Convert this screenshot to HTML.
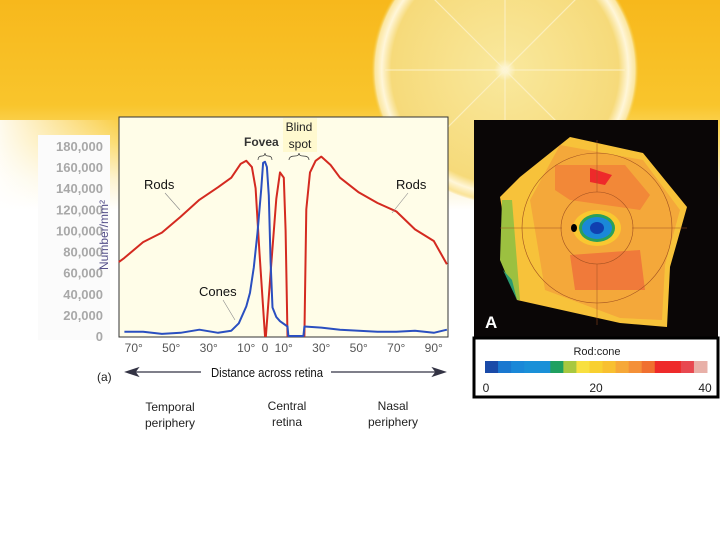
<!DOCTYPE html>
<html><head><meta charset="utf-8"><style>
body{margin:0;width:720px;height:540px;overflow:hidden;font-family:"Liberation Sans",sans-serif;}
#bg{position:absolute;left:0;top:0;width:720px;height:540px;}
</style></head><body>
<svg id="bg" width="720" height="540">
<defs>
<linearGradient id="yb" x1="0" y1="0" x2="0" y2="1">
<stop offset="0" stop-color="#f7b81c"/><stop offset="0.5" stop-color="#f9c52c"/><stop offset="0.68" stop-color="#fbdc70"/><stop offset="0.85" stop-color="#fdf2cc"/><stop offset="1" stop-color="#ffffff"/>
</linearGradient>
<linearGradient id="lf" x1="0" y1="0" x2="1" y2="0">
<stop offset="0" stop-color="#fff" stop-opacity="0.9"/><stop offset="1" stop-color="#fff" stop-opacity="0"/>
</linearGradient>
<radialGradient id="lem" cx="0.5" cy="0.5" r="0.5">
<stop offset="0" stop-color="#fffbe8"/><stop offset="0.08" stop-color="#f9e79a"/><stop offset="0.85" stop-color="#f6da7a"/><stop offset="0.92" stop-color="#fff6d8"/><stop offset="0.97" stop-color="#fbe6a0"/><stop offset="1" stop-color="#f5c530" stop-opacity="0"/>
</radialGradient>
</defs>
<rect width="720" height="540" fill="#fff"/>
<rect width="720" height="210" fill="url(#yb)"/>
<circle cx="505" cy="70" r="134" fill="url(#lem)"/>
<g stroke="#fdf4d0" stroke-width="1.2" opacity="0.7">
<line x1="505" y1="70" x2="505" y2="-55"/><line x1="505" y1="70" x2="505" y2="190"/><line x1="505" y1="70" x2="385" y2="70"/><line x1="505" y1="70" x2="625" y2="70"/>
<line x1="505" y1="70" x2="420" y2="-15"/><line x1="505" y1="70" x2="590" y2="-15"/><line x1="505" y1="70" x2="420" y2="155"/><line x1="505" y1="70" x2="590" y2="155"/>
</g>
<rect x="0" y="120" width="120" height="90" fill="url(#lf)"/>
<rect x="38" y="135" width="72" height="205" fill="#fbfbfb"/>
</svg>

<svg style="position:absolute;left:0;top:0" width="720" height="540">
<rect x="119" y="117" width="329" height="220" fill="#fffde8" stroke="#333" stroke-width="1"/>
<g id="yt" font-size="13" font-weight="bold" fill="#a8a8a8" text-anchor="end"></g>
<text transform="translate(108,235) rotate(-90)" font-size="12" fill="#55508a" text-anchor="middle">Number/mm²</text>
<g id="xt" font-size="12" fill="#555" text-anchor="middle"></g>
<g id="marks"></g>
<rect x="283" y="118" width="34" height="34" fill="#fff8c8" opacity="0.8"/>
<text x="299" y="131" font-size="12" text-anchor="middle" fill="#222">Blind</text>
<text x="300" y="148" font-size="12" text-anchor="middle" fill="#222">spot</text>
<text x="244" y="146" font-size="12" font-weight="bold" fill="#333">Fovea</text>
<path d="M258,160 q0,-4 4,-4 q3,0 3,-3 q0,3 3,3 q4,0 4,4" fill="none" stroke="#333" stroke-width="0.7"/>
<path d="M289,160 q0,-4 6,-4 q4,0 4,-3 q0,3 4,3 q6,0 6,4" fill="none" stroke="#333" stroke-width="0.7"/>
<text x="144" y="189" font-size="13" fill="#111">Rods</text>
<line x1="165" y1="193" x2="180" y2="210" stroke="#888" stroke-width="0.6"/>
<text x="396" y="189" font-size="13" fill="#111">Rods</text>
<line x1="408" y1="193" x2="392" y2="213" stroke="#888" stroke-width="0.6"/>
<text x="199" y="296" font-size="13" fill="#111">Cones</text>
<line x1="223" y1="300" x2="235" y2="320" stroke="#888" stroke-width="0.6"/>
<text x="97" y="381" font-size="12" fill="#222">(a)</text>
<g stroke="#334" stroke-width="1.2" fill="#334">
<line x1="130" y1="372" x2="201" y2="372"/><path d="M126,372 l12,-4 l-3,4 l3,4z"/>
<line x1="331" y1="372" x2="440" y2="372"/><path d="M445,372 l-12,-4 l3,4 l-3,4z"/>
</g>
<text x="211" y="377" font-size="13" fill="#111" textLength="112" lengthAdjust="spacingAndGlyphs">Distance across retina</text>
<g font-size="12" fill="#222" text-anchor="middle">
<text x="170" y="411">Temporal</text><text x="170" y="427">periphery</text>
<text x="287" y="410">Central</text><text x="287" y="426">retina</text>
<text x="393" y="410">Nasal</text><text x="393" y="426">periphery</text>
</g>
</svg>

<svg style="position:absolute;left:0;top:0" width="720" height="540">
<rect x="474" y="120" width="244" height="218" fill="#0a0606"/>
<polygon points="570,137 643,153 687,207 670,267 667,327 620,323 517,300 500,197 520,177" fill="#f7c23a"/>
<polygon points="502,200 512,200 520,300 517,300 500,260" fill="#9cc040"/>
<polygon points="503,270 512,280 517,300" fill="#2a9a70"/>
<polygon points="560,145 643,160 680,210 665,265 662,320 620,318 545,290 530,200" fill="#f4a83a"/>
<polygon points="555,165 625,165 650,195 640,210 570,200 555,190" fill="#f28838"/>
<polygon points="590,168 612,175 605,185 590,182" fill="#ee2a2a"/>
<polygon points="570,255 640,250 645,290 575,290" fill="#f07a3a"/>
<circle cx="597" cy="228" r="36" fill="none" stroke="#a05020" stroke-width="0.6"/>
<circle cx="597" cy="228" r="75" fill="none" stroke="#a05020" stroke-width="0.6"/>
<g stroke="#a05020" stroke-width="0.5"><line x1="500" y1="228" x2="562" y2="228"/><line x1="632" y1="228" x2="687" y2="228"/><line x1="597" y1="140" x2="597" y2="192"/><line x1="597" y1="264" x2="597" y2="325"/></g>
<ellipse cx="597" cy="228" rx="24" ry="18" fill="#f9c830"/>
<ellipse cx="597" cy="228" rx="18" ry="14" fill="#2aa05a"/>
<ellipse cx="597" cy="228" rx="15" ry="11" fill="#1a88d8"/>
<ellipse cx="597" cy="228" rx="7" ry="6" fill="#1040b0"/>
<ellipse cx="574" cy="228" rx="3" ry="4" fill="#000"/>
<text x="485" y="328" font-size="17" font-weight="bold" fill="#fff">A</text>
<rect x="474" y="338" width="244" height="59" fill="#fff" stroke="#000" stroke-width="3"/>
<text x="597" y="355" font-size="11" fill="#222" text-anchor="middle">Rod:cone</text>
<g id="cb"></g>
<g font-size="12" fill="#222" text-anchor="middle">
<text x="486" y="392">0</text>
<text x="596" y="392">20</text>
<text x="705" y="392">40</text>
</g>
</svg>

<script>
const rodDeg=[-78,-75,-65,-55,-45,-35,-25,-18,-13,-10,-7,-5,-3,0,0.5,3,6,8,10,11,12,21,22,24,27,30,35,40,50,60,70,80,90,97];
const rodVal=[70000,74000,89000,98000,113000,129000,141000,150000,163000,166000,160000,140000,80000,0,0,60000,130000,155000,150000,100000,0,0,120000,155000,166000,170000,162000,150000,136000,126000,118000,101000,90000,68000];
const coneDeg=[-75,-65,-55,-45,-35,-25,-18,-14,-10,-8,-6,-4,-2,-1,0,1,2,3,4,6,8,12,12.5,20.5,21,30,40,50,60,70,80,90,97];
const coneVal=[4000,4000,2000,3000,6000,3000,5000,12000,28000,41000,65000,98000,140000,164000,165000,160000,133000,70000,27000,18000,14000,9000,0,0,9000,8000,6000,5000,4000,4000,5000,3000,6000];
const yTicks=[0,20000,40000,60000,80000,100000,120000,140000,160000,180000];
const yTickLabels=["0","20,000","40,000","60,000","80,000","100,000","120,000","140,000","160,000","180,000"];
const xTicks=[-70,-50,-30,-10,0,10,30,50,70,90];
const xTickLabels=["70°","50°","30°","10°","0","10°","30°","50°","70°","90°"];
const cbColors=["#1a4aa8","#1a78d0","#1a88d8","#1a90d8","#1a90d8","#20a060","#a8c840","#f8e040","#f8d030","#f8c030","#f6a838","#f49038","#f07030","#ee2a2a","#ee2a2a","#e84850","#e8b0a8"];
const NS='http://www.w3.org/2000/svg';
function xs(d){return 265+d*1.875;}
function ys(v){return 336-v*190/180000;}
function mk(t,a){const e=document.createElementNS(NS,t);for(const k in a)e.setAttribute(k,a[k]);return e;}
const yt=document.getElementById('yt');
yTicks.forEach((v,i)=>{const t=mk('text',{x:103,y:ys(v)+5});t.textContent=yTickLabels[i];


yt.appendChild(t);});
const xt=document.getElementById('xt');
xTicks.forEach((v,i)=>{const t=mk('text',{x:xs(v),y:352});t.textContent=xTickLabels[i];


xt.appendChild(t);});
const marks=document.getElementById('marks');
function line(ds,vs,col,name){const p=ds.map((d,i)=>(i?'L':'M')+xs(d).toFixed(1)+','+ys(vs[i]).toFixed(1)).join(' ');
const e=mk('path',{d:p,fill:'none',stroke:col,'stroke-width':2,'stroke-linejoin':'round'});


marks.appendChild(e);}
line(rodDeg,rodVal,'#d42a20','rods-line');
line(coneDeg,coneVal,'#2a4fc0','cones-line');
const cb=document.getElementById('cb');const w=222/cbColors.length;
cbColors.forEach((c,i)=>{const r=mk('rect',{x:485+i*w,y:361,width:w+0.5,height:12,fill:c});


cb.appendChild(r);});
</script>
</body></html>
